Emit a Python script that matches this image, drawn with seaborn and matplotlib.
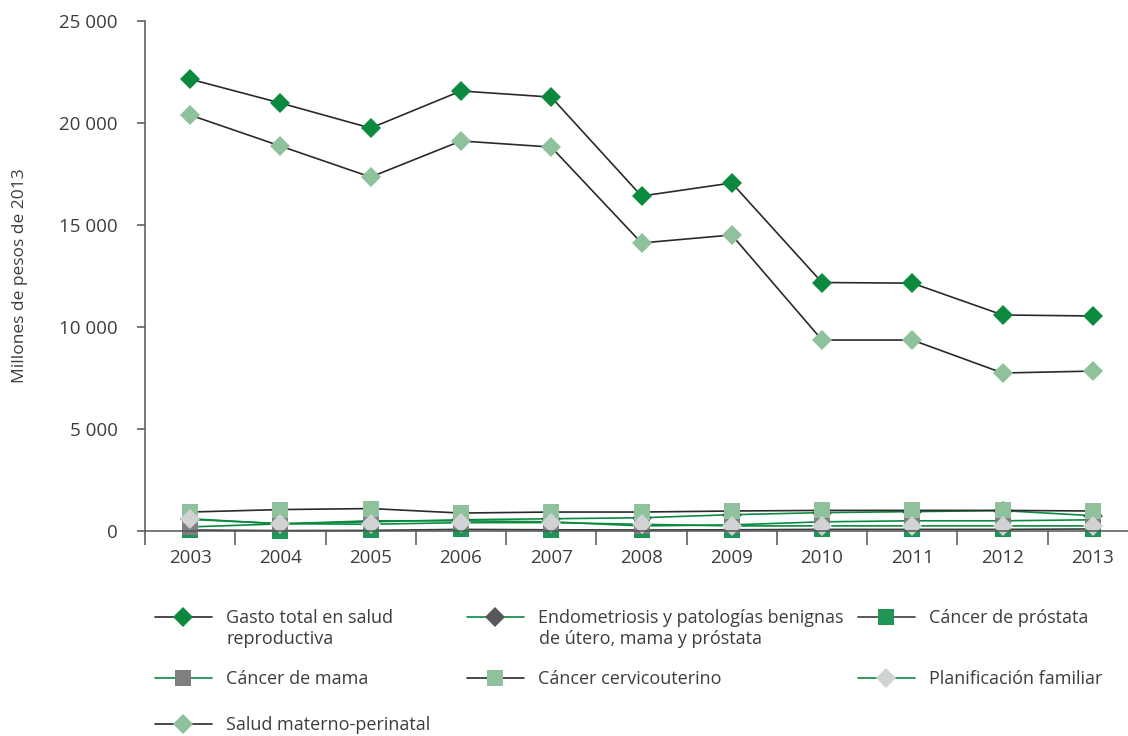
import matplotlib
matplotlib.use("Agg")
import matplotlib.pyplot as plt
from matplotlib.lines import Line2D
import pandas as pd
import seaborn as sns

years = ["2003", "2004", "2005", "2006", "2007", "2008", "2009", "2010", "2011", "2012", "2013"]

gasto_total = [22150, 20980, 19750, 21570, 21270, 16420, 17060, 12180, 12150, 10590, 10540]
endometriosis = [600, 350, 450, 550, 600, 650, 800, 900, 950, 1000, 750]
cancer_prostata = [50, 20, 30, 80, 60, 50, 60, 80, 80, 80, 100]
cancer_mama = [200, 350, 500, 500, 450, 250, 300, 450, 500, 500, 550]
cancer_cervico = [930, 1050, 1100, 880, 930, 930, 980, 1010, 1010, 1010, 980]
planificacion = [570, 360, 330, 410, 410, 330, 250, 250, 250, 250, 250]
materno = [20390, 18870, 17350, 19120, 18820, 14120, 14510, 9360, 9360, 7745, 7840]

labels = [
    "Gasto total en salud\nreproductiva",
    "Endometriosis y patologías benignas\nde útero, mama y próstata",
    "Cáncer de próstata",
    "Cáncer de mama",
    "Cáncer cervicouterino",
    "Planificación familiar",
    "Salud materno-perinatal",
]

DKGREEN = "#0b8a3f"
BLACK = "#2a2a2a"
# (line colour, marker, marker colour, marker size)
styles = [
    (BLACK, "D", DKGREEN, 10.5),
    (DKGREEN, "D", "#57585a", 10.5),
    ("#3c3c3c", "s", "#1f9558", 11.5),
    (DKGREEN, "s", "#7f7f82", 11.5),
    (BLACK, "s", "#8fc19c", 11.5),
    (DKGREEN, "D", "#d1d2d4", 10.5),
    (BLACK, "D", "#8fc19c", 10.5),
]
series = [gasto_total, endometriosis, cancer_prostata, cancer_mama,
          cancer_cervico, planificacion, materno]

sns.set_style("ticks")
plt.rcParams["font.family"] = ["Open Sans", "DejaVu Sans"]
TXT = "#3d3d3d"

fig = plt.figure(figsize=(11.28, 7.36), dpi=100)
ax = fig.add_axes([145 / 1128, 1 - 531 / 736, (1138 - 145) / 1128, (531 - 21) / 736])

handles = []
for vals, lab, (lc, mk, mc, ms) in zip(series, labels, styles):
    df = pd.DataFrame({"x": range(len(years)), "y": vals})
    sns.lineplot(data=df, x="x", y="y", ax=ax, color=lc, lw=1.2,
                 marker=mk, markersize=ms, markerfacecolor=mc,
                 markeredgewidth=0, legend=False, clip_on=False)
    handles.append(Line2D([], [], color=lc, lw=1.2, marker=mk, markersize=ms,
                          markerfacecolor=mc, markeredgewidth=0))

ax.set_xlim(-0.5, len(years) - 0.5)
ax.set_ylim(0, 25000)
ax.set_yticks(range(0, 25001, 5000))
ax.set_yticklabels([f"{v:,}".replace(",", " ") for v in range(0, 25001, 5000)],
                   fontsize=13.5, color=TXT)
ax.set_xticks([i - 0.5 for i in range(len(years) + 1)])
ax.set_xticklabels([])
ax.set_xticks(range(len(years)), minor=True)
ax.set_xticklabels(years, minor=True, fontsize=13.5, color=TXT)
ax.tick_params(axis="x", which="major", length=10, width=1.1, color="#555555")
ax.tick_params(axis="x", which="minor", length=0, pad=13)
ax.tick_params(axis="y", length=6, width=1.1, color="#555555", pad=13.5)
ax.set_xlabel("")
ax.set_ylabel("Millones de pesos de 2013", fontsize=12.5, color=TXT)
ax.yaxis.set_label_coords(-0.118, 0.5)
sns.despine(ax=ax, right=True, top=True)
for s in ["left", "bottom"]:
    ax.spines[s].set_color("#555555")
    ax.spines[s].set_linewidth(1.1)

# legend: one entry each, two-line labels get their second line as text
pos = [(155, 618), (467, 618), (858, 618), (155, 679), (467, 679), (858, 679), (155, 725)]
for h, lab, (px, py) in zip(handles, labels, pos):
    first, *rest = lab.split("\n")
    leg = fig.legend([h], [first], loc="center left",
                     bbox_to_anchor=(px / 1128, 1 - py / 736),
                     frameon=False, fontsize=13, handlelength=3.15,
                     handletextpad=0.8, borderpad=0, borderaxespad=0)
    for t in leg.get_texts():
        t.set_color(TXT)
    if rest:
        fig.text((px + 72) / 1128, 1 - (py + 21) / 736, rest[0], fontsize=13,
                 color=TXT, va="center", ha="left")

fig.savefig("out.png", dpi=100)
